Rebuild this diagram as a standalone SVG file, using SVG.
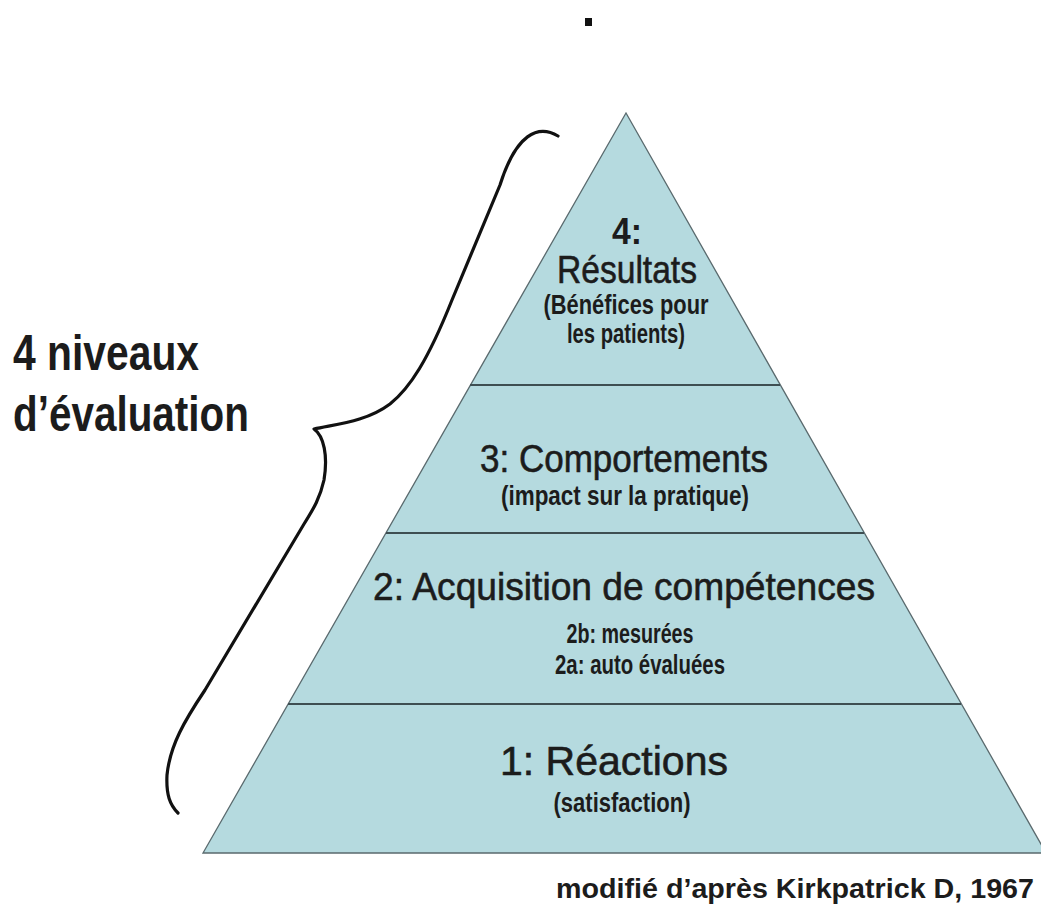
<svg xmlns="http://www.w3.org/2000/svg" width="1041" height="912" viewBox="0 0 1041 912">
<style>
.t{font-family:"Liberation Sans",Arial,sans-serif;fill:#1c1c1c;text-anchor:middle}
.h{stroke:#1c1c1c;stroke-width:0.6}
.b{font-weight:bold}
.sep{stroke:#3e4e52;stroke-width:2.2}
</style>
<rect width="1041" height="912" fill="#ffffff"/>
<rect x="585" y="18" width="7" height="8" fill="#111"/>
<g id="pyramid">
<polygon points="626,113 203,853 1046,853" fill="#b5dadf" stroke="#5a6a6e" stroke-width="1.3"/>
</g>
<g id="connectors">
<line class="sep" x1="470" y1="385" x2="780" y2="385"/>
<line class="sep" x1="386" y1="533" x2="864" y2="533"/>
<line class="sep" x1="288" y1="704" x2="961" y2="704"/>
<path d="M558,136 C538,124 516,134 500,185 L452,300 C428,360 410,388 390,404 C366,422 336,424 314,429 C324,436 328,456 324,480 C320,498 314,508 304,524 L205,690 C185,720 170,745 167,775 C166,795 170,805 178,813" fill="none" stroke="#111" stroke-width="3.2" stroke-linecap="round" stroke-linejoin="round"/>
</g>
<g id="level4">
<text class="t b" x="627" y="244" font-size="37" textLength="30" lengthAdjust="spacingAndGlyphs">4:</text>
<text class="t h" x="627" y="283" font-size="39" textLength="140" lengthAdjust="spacingAndGlyphs">Résultats</text>
<text class="t b" x="626" y="314" font-size="27" textLength="165" lengthAdjust="spacingAndGlyphs">(Bénéfices pour</text>
<text class="t b" x="626" y="343" font-size="27" textLength="118" lengthAdjust="spacingAndGlyphs">les patients)</text>
</g>
<g id="level3">
<text class="t h" x="624" y="472" font-size="38" textLength="288" lengthAdjust="spacingAndGlyphs">3: Comportements</text>
<text class="t b" x="625" y="505" font-size="27" textLength="248" lengthAdjust="spacingAndGlyphs">(impact sur la pratique)</text>
</g>
<g id="level2">
<text class="t h" x="624" y="600" font-size="39" textLength="502" lengthAdjust="spacingAndGlyphs">2: Acquisition de compétences</text>
<text class="t b" x="630" y="643" font-size="27" textLength="127" lengthAdjust="spacingAndGlyphs">2b: mesurées</text>
<text class="t b" x="640" y="674" font-size="27" textLength="170" lengthAdjust="spacingAndGlyphs">2a: auto évaluées</text>
</g>
<g id="level1">
<text class="t h" x="614" y="775" font-size="41" textLength="228" lengthAdjust="spacingAndGlyphs">1: Réactions</text>
<text class="t b" x="622" y="812" font-size="28" textLength="137" lengthAdjust="spacingAndGlyphs">(satisfaction)</text>
</g>
<g id="label">
<text class="t b" x="13" y="370" font-size="50" style="text-anchor:start" textLength="186" lengthAdjust="spacingAndGlyphs">4 niveaux</text>
<text class="t b" x="13" y="431" font-size="50" style="text-anchor:start" textLength="236" lengthAdjust="spacingAndGlyphs">d’évaluation</text>
</g>
<g id="credit">
<text class="t b" x="795" y="898" font-size="28" textLength="478" lengthAdjust="spacingAndGlyphs">modifié d’après Kirkpatrick D, 1967</text>
</g>
</svg>
